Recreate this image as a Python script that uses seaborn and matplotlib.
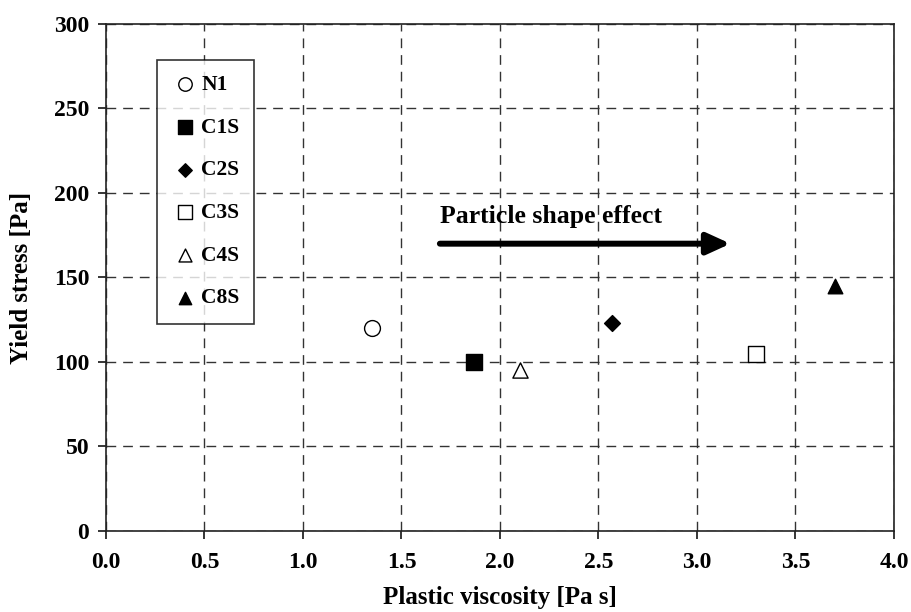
import matplotlib
matplotlib.use("Agg")
import matplotlib.pyplot as plt
import seaborn as sns
import pandas as pd

labels = ["N1", "C1S", "C2S", "C3S", "C4S", "C8S"]
viscosity = [1.35, 1.87, 2.57, 3.30, 2.10, 3.70]
yield_stress = [120, 100, 123, 105, 95, 145]
markers = ["o", "s", "D", "s", "^", "^"]
filled = [False, True, True, False, False, True]
sizes = [130, 130, 65, 130, 120, 110]

xticks = [0.0, 0.5, 1.0, 1.5, 2.0, 2.5, 3.0, 3.5, 4.0]
yticks = [0, 50, 100, 150, 200, 250, 300]

sns.set_theme(style="white")
plt.rcParams["font.family"] = ["Liberation Serif", "DejaVu Serif"]
plt.rcParams["font.weight"] = "bold"
plt.rcParams["text.color"] = "black"
plt.rcParams["axes.labelcolor"] = "black"
plt.rcParams["xtick.color"] = "black"
plt.rcParams["ytick.color"] = "black"

df = pd.DataFrame({"label": labels, "x": viscosity, "y": yield_stress})

fig = plt.figure(figsize=(9.12, 6.12), dpi=100)
ax = fig.add_axes([0.1162, 0.1324, 0.864, 0.8284])

for lab, m, f, s in zip(labels, markers, filled, sizes):
    sub = df[df["label"] == lab]
    sns.scatterplot(data=sub, x="x", y="y", ax=ax, marker=m, s=s,
                    facecolor="black" if f else "white", edgecolor="black",
                    linewidth=1.0, label=lab, zorder=3)

ax.set_xlim(0, 4.0)
ax.set_ylim(0, 300)
ax.set_xticks(xticks)
ax.set_xticklabels([f"{v:.1f}" for v in xticks], fontsize=17, fontweight="bold")
ax.set_yticks(yticks)
ax.set_yticklabels([str(v) for v in yticks], fontsize=17, fontweight="bold")
ax.set_xlabel("Plastic viscosity [Pa s]", fontsize=18, fontweight="bold")
ax.set_ylabel("Yield stress [Pa]", fontsize=18, fontweight="bold")
ax.xaxis.set_label_coords(0.5, -0.108)
ax.yaxis.set_label_coords(-0.093, 0.5)

ax.grid(True, color="#333333", linestyle=(0, (7, 5)), linewidth=1.0)
ax.tick_params(direction="out", top=False, right=False, length=6, width=1.1, colors="black",
               bottom=True, left=True)
ax.tick_params(axis="x", pad=9)
ax.tick_params(axis="y", pad=6)
for sp in ax.spines.values():
    sp.set_color("#222222")
    sp.set_linewidth(1.2)

ax.annotate("", xy=(3.17, 170), xytext=(1.695, 170),
            arrowprops=dict(arrowstyle="-|>,head_length=0.7,head_width=0.32",
                            mutation_scale=20, color="black", lw=4.3,
                            shrinkA=0, shrinkB=0), zorder=4)
ax.text(1.695, 182, "Particle shape effect", fontsize=18.5, fontweight="bold",
        ha="left", va="baseline")

leg = ax.legend(loc="upper left", bbox_to_anchor=(0.0647, 0.929), frameon=True,
                fancybox=False, edgecolor="black", labelspacing=1.05, handletextpad=0.15,
                borderpad=0.7, borderaxespad=0, prop={"size": 15.5, "weight": "bold"},
                markerscale=0.85, handlelength=1.2)
leg.get_frame().set_linewidth(1.2)
for t in leg.get_texts():
    t.set_color("black")

fig.savefig("out.png", dpi=100)
